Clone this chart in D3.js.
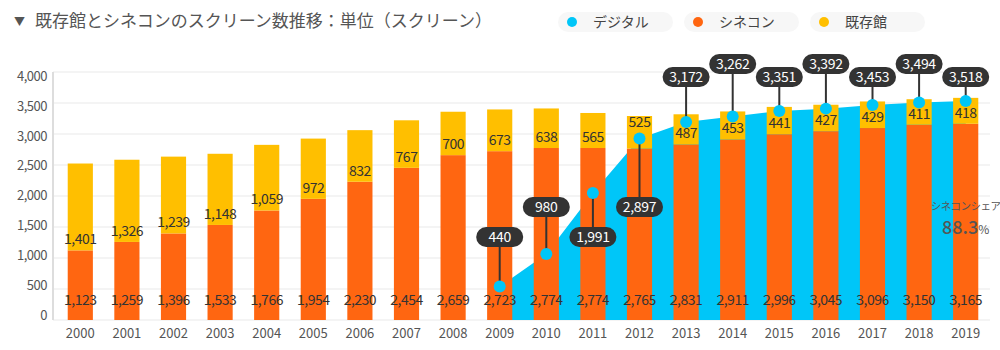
<!DOCTYPE html>
<html>
<head>
<meta charset="utf-8">
<script src="https://cdn.jsdelivr.net/npm/d3@7"></script>
<style>
  body { margin: 0; background: #fff; }
  svg { display: block; font-family: "Noto Sans CJK JP", "Noto Sans", sans-serif; }
</style>
</head>
<body>
<div id="chart"></div>
<script>
const years = [2000, 2001, 2002, 2003, 2004, 2005, 2006, 2007, 2008, 2009,
               2010, 2011, 2012, 2013, 2014, 2015, 2016, 2017, 2018, 2019];
const cinecon = [1123, 1259, 1396, 1533, 1766, 1954, 2230, 2454, 2659, 2723,
                 2774, 2774, 2765, 2831, 2911, 2996, 3045, 3096, 3150, 3165];
const existing = [1401, 1326, 1239, 1148, 1059, 972, 832, 767, 700, 673,
                  638, 565, 525, 487, 453, 441, 427, 429, 411, 418];
const digitalYears = [2009, 2010, 2011, 2012, 2013, 2014, 2015, 2016, 2017, 2018, 2019];
const digital = [440, 980, 1991, 2897, 3172, 3262, 3351, 3392, 3453, 3494, 3518];
const yTicks = [0, 500, 1000, 1500, 2000, 2500, 3000, 3500, 4000];
const legendNames = ["デジタル", "シネコン", "既存館"];
const title = "既存館とシネコンのスクリーン数推移：単位（スクリーン）";

const width = 1000, height = 350;
const colors = { digital: "#00c6f8", cinecon: "#ff6611", existing: "#ffbf00" };

const svg = d3.select("#chart").append("svg")
    .attr("width", width)
    .attr("height", height);

const x = d3.scaleBand().domain(years).range([57, 989]).paddingInner(0.46).paddingOuter(0.23);
const y = d3.scaleLinear().domain([0, 4000]).range([320, 72]);
// digital series sits on its own (hidden) axis
const y2 = d3.scaleLinear().domain([0, 4000]).range([313, 72]);
// tick labels are squeezed slightly inside the plot
const yLab = d3.scaleLinear().domain([0, 4000]).range([315.5, 76]);
const cx = yr => x(yr) + x.bandwidth() / 2;

// title
svg.append("text").attr("x", 14).attr("y", 26)
    .attr("font-size", 11).attr("fill", "#555").text("▼");
svg.append("text").attr("x", 35).attr("y", 27)
    .attr("font-size", 17).attr("fill", "#555").text(title);

// legend
const legend = svg.append("g").selectAll("g")
    .data(legendNames)
    .enter().append("g")
    .attr("transform", (d, i) => `translate(${558 + i * 126}, 12)`);
legend.append("rect").attr("width", 115).attr("height", 20).attr("rx", 10).attr("fill", "#f7f7f7");
legend.append("circle").attr("cx", 14).attr("cy", 10).attr("r", 5)
    .attr("fill", (d, i) => [colors.digital, colors.cinecon, colors.existing][i]);
legend.append("text").attr("x", 35).attr("y", 15).attr("font-size", 14).attr("fill", "#444").text(d => d);

// grid
svg.append("g").selectAll("line")
    .data(yTicks)
    .enter().append("line")
    .attr("x1", 53).attr("x2", 990)
    .attr("y1", d => y(d)).attr("y2", d => y(d))
    .attr("stroke", "#f0f0f0").attr("stroke-width", 1.5);

// y axis
svg.append("line")
    .attr("x1", 53).attr("x2", 53).attr("y1", y(4000)).attr("y2", y(0))
    .attr("stroke", "#ddd").attr("stroke-width", 2);
const yAxis = svg.append("g")
    .attr("transform", "translate(53,0)")
    .call(d3.axisLeft(yLab).tickValues(yTicks).tickSize(0).tickPadding(6).tickFormat(d3.format(",")));
yAxis.select(".domain").remove();
yAxis.selectAll("text").attr("font-size", 13).attr("fill", "#555")
    .attr("font-family", "'Noto Sans CJK JP', sans-serif").attr("letter-spacing", -0.5);

// x axis
const xAxis = svg.append("g")
    .attr("transform", "translate(0,320)")
    .call(d3.axisBottom(x).tickSize(0).tickPadding(9));
xAxis.select(".domain").remove();
xAxis.selectAll("text").attr("font-size", 13).attr("fill", "#555")
    .attr("font-family", "'Noto Sans CJK JP', sans-serif");

// digital area
const digitalData = digitalYears.map((yr, i) => ({ year: yr, value: digital[i] }));
const area = d3.area()
    .x(d => cx(d.year))
    .y0(y(0))
    .y1(d => y2(d.value));
svg.append("path").datum(digitalData)
    .attr("d", area).attr("fill", colors.digital);

// stacked bars
const barData = years.map((yr, i) => ({ year: yr, cinecon: cinecon[i], existing: existing[i] }));
const bars = svg.append("g").selectAll("g")
    .data(barData)
    .enter().append("g");
bars.append("rect")
    .attr("x", d => x(d.year)).attr("width", x.bandwidth())
    .attr("y", d => y(d.cinecon)).attr("height", d => y(0) - y(d.cinecon))
    .attr("fill", colors.cinecon);
bars.append("rect")
    .attr("x", d => x(d.year)).attr("width", x.bandwidth())
    .attr("y", d => y(d.cinecon + d.existing)).attr("height", d => y(d.cinecon) - y(d.cinecon + d.existing))
    .attr("fill", colors.existing);

const fmt = d3.format(",");
const digitalByYear = new Map(digitalYears.map((yr, i) => [yr, digital[i]]));

bars.append("text")
    .attr("x", d => cx(d.year)).attr("y", y(0) - 20)
    .attr("dy", "0.35em").attr("text-anchor", "middle")
    .attr("font-size", 14).attr("fill", "#333").attr("letter-spacing", -0.5)
    .text(d => fmt(d.cinecon));
bars.append("text")
    .attr("x", d => cx(d.year))
    .attr("y", d => {
        let ly = y(d.cinecon) - 11;
        const dv = digitalByYear.get(d.year);
        if (dv !== undefined && Math.abs(y2(dv) - ly) < 9) ly = y2(dv) - 16;
        return ly;
    })
    .attr("dy", "0.35em").attr("text-anchor", "middle")
    .attr("font-size", 14).attr("fill", "#333").attr("letter-spacing", -0.5)
    .text(d => fmt(d.existing));

// digital callouts
const pillY = (d, i) => d.value < 3000 ? (i % 2 === 0 ? 237 : 207) : (i % 2 === 0 ? 77 : 64);
const callouts = svg.append("g").selectAll("g")
    .data(digitalData)
    .enter().append("g");
callouts.append("line")
    .attr("x1", d => cx(d.year)).attr("x2", d => cx(d.year))
    .attr("y1", (d, i) => pillY(d, i)).attr("y2", d => y2(d.value))
    .attr("stroke", "#333").attr("stroke-width", 2);
callouts.append("circle")
    .attr("cx", d => cx(d.year)).attr("cy", d => y2(d.value)).attr("r", 6)
    .attr("fill", colors.digital);
callouts.append("rect")
    .attr("x", d => cx(d.year) - 23.5).attr("y", (d, i) => pillY(d, i) - 10)
    .attr("width", 47).attr("height", 20).attr("rx", 10)
    .attr("fill", "#333");
callouts.append("text")
    .attr("x", d => cx(d.year)).attr("y", (d, i) => pillY(d, i))
    .attr("dy", "0.36em").attr("text-anchor", "middle")
    .attr("font-size", 14).attr("fill", "#fff").attr("letter-spacing", -0.3)
    .text(d => fmt(d.value));

// share annotation
const last = years.length - 1;
const share = cinecon[last] / (cinecon[last] + existing[last]) * 100;
svg.append("text")
    .attr("x", cx(years[last])).attr("y", 210)
    .attr("text-anchor", "middle").attr("font-size", 10.5).attr("fill", "#555")
    .attr("letter-spacing", -0.5)
    .text("シネコンシェア");
const shareText = svg.append("text")
    .attr("x", cx(years[last])).attr("y", 234)
    .attr("text-anchor", "middle").attr("fill", "#555");
shareText.append("tspan").attr("font-size", 18).attr("font-weight", 500).text(share.toFixed(1));
shareText.append("tspan").attr("font-size", 12).text("%");
</script>
</body>
</html>
